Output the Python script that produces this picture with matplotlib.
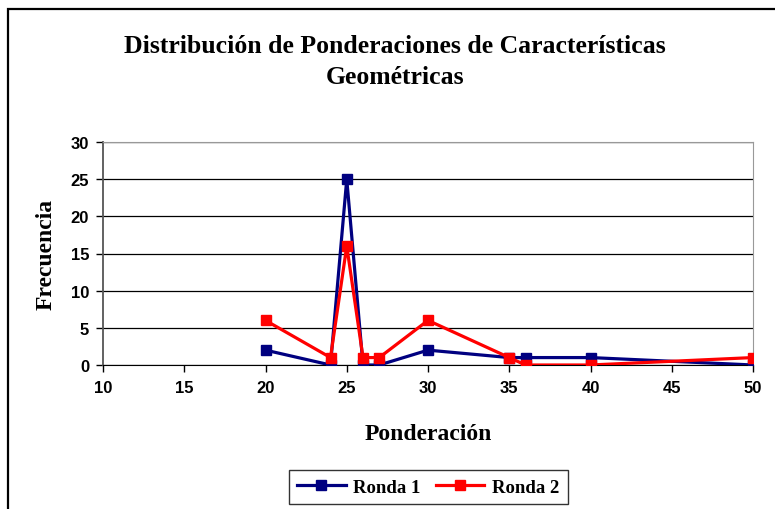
import matplotlib
matplotlib.use("Agg")
import matplotlib.pyplot as plt
from matplotlib.patches import Rectangle

# ponderacion values and frequencies per round
x_r1 = [20, 24, 25, 26, 27, 30, 35, 36, 40, 50]
y_r1 = [2, 0, 25, 0, 0, 2, 1, 1, 1, 0]
x_r2 = [20, 24, 25, 26, 27, 30, 35, 36, 40, 50]
y_r2 = [6, 1, 16, 1, 1, 6, 1, 0, 0, 1]
x_ticks = [10, 15, 20, 25, 30, 35, 40, 45, 50]
y_ticks = [0, 5, 10, 15, 20, 25, 30]

SERIF = "Liberation Serif"
SANS = "Liberation Sans"

fig = plt.figure(figsize=(7.75, 5.1), dpi=100)
fig.patches.append(Rectangle((8 / 775, -0.05), 1.2, 1 - 10 / 510 + 0.05, transform=fig.transFigure,
                             fill=False, edgecolor="black", lw=1.6, zorder=0))

ax = fig.add_axes([103 / 775, 1 - 366 / 510, 650 / 775, 223 / 510])
ax.plot(x_r1, y_r1, color="#000080", lw=2.3, marker="s", ms=6.5, label="Ronda 1", zorder=3)
ax.plot(x_r2, y_r2, color="#ff0000", lw=2.3, marker="s", ms=6.5, label="Ronda 2", zorder=4)

ax.set_xlim(10, 50)
ax.set_ylim(0, 30)
ax.set_xticks(x_ticks)
ax.set_yticks(y_ticks)
ax.yaxis.grid(True, color="black", lw=0.9)
ax.set_axisbelow(True)
for s in ("top", "right"):
    ax.spines[s].set_color("#999999")
ax.spines["left"].set_color("#555555")
ax.spines["left"].set_linewidth(1.3)
ax.spines["bottom"].set_color("black")
ax.tick_params(direction="out", length=5, width=1, colors="black")
for lab in ax.get_xticklabels() + ax.get_yticklabels():
    lab.set_fontfamily(SANS)
    lab.set_fontweight("bold")
    lab.set_fontsize(12)
ax.tick_params(axis="x", pad=6)
ax.tick_params(axis="y", pad=5)

ax.set_xlabel("Ponderación", fontfamily=SERIF, fontweight="bold", fontsize=17, labelpad=20)
ax.set_ylabel("Frecuencia", fontfamily=SERIF, fontweight="bold", fontsize=17, labelpad=10)

fig.text(395 / 775, 1 - 62 / 510, "Distribución de Ponderaciones de Características\nGeométricas",
         ha="center", va="center", fontfamily=SERIF, fontweight="bold", fontsize=18.5,
         linespacing=1.45)

leg = fig.legend(loc="center", bbox_to_anchor=(428 / 775, 1 - 488 / 510), ncol=2,
                 prop={"family": SERIF, "weight": "bold", "size": 13.5},
                 frameon=True, fancybox=False, edgecolor="black", handlelength=2.6,
                 columnspacing=0.8, handletextpad=0.4, borderpad=0.45)
leg.get_frame().set_linewidth(1.0)

fig.savefig("out.png", dpi=100)
